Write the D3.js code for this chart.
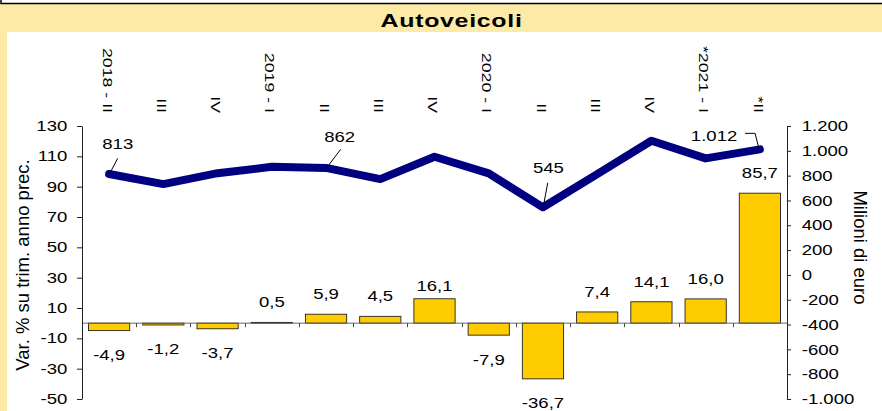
<!DOCTYPE html>
<html>
<head>
<meta charset="utf-8">
<script src="https://cdn.jsdelivr.net/npm/d3@7"></script>
<style>
  html, body { margin: 0; padding: 0; background: #fff; }
  svg { display: block; font-family: Arial, "Liberation Sans", sans-serif; }
</style>
</head>
<body>
<div id="chart"></div>
<script>
// Autoveicoli - bars: var. % on same quarter of previous year (left axis)
//              line: millions of euro (right axis)

const categories = ["2018 - II", "III", "IV", "2019 - I", "II", "III", "IV",
                    "2020 - I", "II", "III", "IV", "*2021 - I", "*II"];
const pctChange = [-4.9, -1.2, -3.7, 0.5, 5.9, 4.5, 16.1, -7.9, -36.7, 7.4, 14.1, 16.0, 85.7];
const valueMln  = [813, 732, 820, 871, 862, 772, 952, 818, 545, 812, 1081, 939, 1012];
const leftTicks  = [130, 110, 90, 70, 50, 30, 10, -10, -30, -50];
const rightTicks = [1200, 1000, 800, 600, 400, 200, 0, -200, -400, -600, -800, -1000];
const labelledPoints = [0, 4, 8, 12];

const width = 882, height = 411;
const plotLeft = 82, plotRight = 787, plotTop = 126, plotBottom = 399;
const textScale = 1.28;   // the source picture is stretched sideways

const it = d3.formatLocale({ decimal: ",", thousands: ".", grouping: [3], currency: ["€", ""], minus: "-" });
const fmtInt = it.format(",d");
const fmtPct = it.format(",.1f");

const svg = d3.select("#chart").append("svg")
  .attr("width", width)
  .attr("height", height);

// ── Frame ───────────────────────────────────────────────────────────────────
svg.append("rect").attr("x", 0).attr("y", 0).attr("width", width).attr("height", height)
  .attr("fill", "#fdeaa6");
svg.append("rect").attr("x", 0).attr("y", 0).attr("width", width).attr("height", 3.5)
  .attr("fill", "#fff");
svg.append("rect").attr("x", 7).attr("y", 32).attr("width", width - 7).attr("height", height - 32)
  .attr("fill", "#fff");
svg.append("path")
  .attr("d", `M1,0 V3.5 H${width}`)
  .attr("fill", "none").attr("stroke", "#000").attr("stroke-width", 1.5);

svg.append("text")
  .attr("transform", `translate(451.5, 26.5) scale(1.35,1)`)
  .attr("text-anchor", "middle")
  .style("font-size", "18.5px").style("font-weight", "bold").style("letter-spacing", "0.5px")
  .text("Autoveicoli");

// ── Scales ──────────────────────────────────────────────────────────────────
const x = d3.scaleBand()
  .domain(categories.map((c, i) => i))
  .range([plotLeft, plotRight])
  .paddingInner(0.24)
  .paddingOuter(0.12);

const yLeft = d3.scaleLinear().domain([-50, 130]).range([plotBottom, plotTop]);
const yRight = d3.scaleLinear().domain([-1000, 1200]).range([plotBottom, plotTop]);
const cx = i => x(i) + x.bandwidth() / 2;

// ── Category labels (vertical, top) ─────────────────────────────────────────
categories.forEach((c, i) => {
  svg.append("text")
    .attr("transform", `translate(${cx(i) - 2}, 113) rotate(90) scale(1.48,1)`)
    .attr("text-anchor", "end")
    .attr("dominant-baseline", "central")
    .style("font-size", "12px")
    .text(c);
});

// ── Bars ────────────────────────────────────────────────────────────────────
svg.append("g").selectAll("rect")
  .data(pctChange)
  .join("rect")
  .attr("x", (d, i) => x(i))
  .attr("y", d => yLeft(Math.max(0, d)))
  .attr("width", x.bandwidth())
  .attr("height", d => Math.abs(yLeft(d) - yLeft(0)))
  .attr("fill", "#ffcc00")
  .attr("stroke", "#222")
  .attr("stroke-width", 0.9);

// zero line with category separators
svg.append("line")
  .attr("x1", plotLeft).attr("x2", plotRight)
  .attr("y1", yLeft(0)).attr("y2", yLeft(0))
  .attr("stroke", "#666").attr("stroke-width", 1);

const gap = (x.step() - x.bandwidth()) / 2;
categories.slice(1).forEach((c, k) => {
  const bx = Math.round(x(k + 1) - gap) + 0.5;
  svg.append("line")
    .attr("x1", bx).attr("x2", bx)
    .attr("y1", yLeft(0)).attr("y2", yLeft(0) + 4)
    .attr("stroke", "#444").attr("stroke-width", 1);
});

// bar labels
const pctLabelLift = { 6: 7.5 };
pctChange.forEach((d, i) => {
  const y = d >= 0 ? yLeft(d) - (pctLabelLift[i] || 15) : yLeft(d) + 29.5;
  svg.append("text")
    .attr("transform", `translate(${cx(i)}, ${y}) scale(${textScale},1)`)
    .attr("text-anchor", "middle")
    .style("font-size", "14.5px")
    .text(fmtPct(d));
});

// ── Axes ────────────────────────────────────────────────────────────────────
const axisL = svg.append("g")
  .attr("transform", `translate(${plotLeft},0)`)
  .call(d3.axisLeft(yLeft).tickValues(leftTicks).tickSize(5).tickSizeOuter(0).tickFormat(fmtInt));
axisL.selectAll("text")
  .attr("x", -11.5)
  .attr("transform", `scale(${textScale},1)`)
  .style("font-size", "14.5px").style("fill", "#000");

const axisR = svg.append("g")
  .attr("transform", `translate(${plotRight},0)`)
  .call(d3.axisRight(yRight).tickValues(rightTicks).tickSize(4).tickSizeOuter(0).tickFormat(fmtInt));
axisR.selectAll("text")
  .attr("x", 11.5)
  .attr("transform", `scale(${textScale},1)`)
  .style("font-size", "14.5px").style("fill", "#000");

svg.selectAll(".domain, .tick line").attr("stroke", "#222");

svg.append("text")
  .attr("transform", "translate(29, 265) rotate(-90)")
  .attr("text-anchor", "middle")
  .style("font-size", "18.5px")
  .text("Var. % su trim. anno prec.");

svg.append("text")
  .attr("transform", "translate(853.5, 247.5) rotate(90)")
  .attr("text-anchor", "middle")
  .style("font-size", "18.5px")
  .text("Milioni di euro");

// ── Line (right axis) ───────────────────────────────────────────────────────
const line = d3.line()
  .x((d, i) => cx(i))
  .y(d => yRight(d));

svg.append("path")
  .datum(valueMln)
  .attr("d", line)
  .attr("fill", "none")
  .attr("stroke", "#000080")
  .attr("stroke-width", 8)
  .attr("stroke-linejoin", "round")
  .attr("stroke-linecap", "round");

// labels with leader lines: text offset and leader path relative to the point
const leaders = {
  0:  { tx: 8.6,   ty: -24.7, path: [[1, -1.3], [8.6, -15.7]] },
  4:  { tx: 13.6,  ty: -26.2, path: [[0.3, 0.4], [14.6, -18.6]] },
  8:  { tx: 5.4,   ty: -33.9, path: [[-0.2, 2.1], [4.8, -24.5]] },
  12: { tx: -45.8, ty: -8.3,  path: [[-14.8, -16], [-4.8, -16], [-0.8, 0]] }
};

labelledPoints.forEach(i => {
  const px = cx(i), py = yRight(valueMln[i]);
  const o = leaders[i];
  svg.append("path")
    .attr("d", d3.line()(o.path.map(p => [px + p[0], py + p[1]])))
    .attr("fill", "none").attr("stroke", "#000").attr("stroke-width", 1);
  svg.append("text")
    .attr("transform", `translate(${px + o.tx}, ${py + o.ty}) scale(${textScale},1)`)
    .attr("text-anchor", "middle")
    .style("font-size", "14.5px")
    .text(fmtInt(valueMln[i]));
});
</script>
</body>
</html>
